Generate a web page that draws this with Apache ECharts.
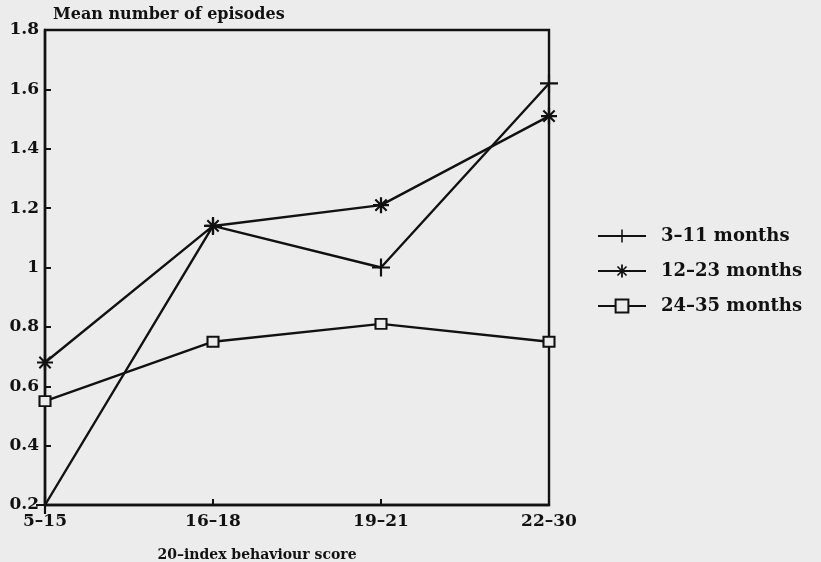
<!DOCTYPE html>
<html><head><meta charset="utf-8">
<script src="https://cdn.jsdelivr.net/npm/echarts@6/dist/echarts.min.js"></script>
<style>html,body{margin:0;padding:0;background:#ececec;}#c{width:821px;height:562px;}</style>
</head><body><div id="c"></div>
<script>
const categories = ['5–15', '16–18', '19–21', '22–30'];
const s1Name = '3–11 months';
const s2Name = '12–23 months';
const s3Name = '24–35 months';
const s1 = [0.2, 1.14, 1.0, 1.62];
const s2 = [0.68, 1.14, 1.21, 1.51];
const s3 = [0.55, 0.75, 0.81, 0.75];
const yTicks = {min: 0.2, max: 1.8, interval: 0.2};

const FONT = '"DejaVu Serif", serif';
const plusPath = 'path://M-1.2,-10 L1.2,-10 L1.2,10 L-1.2,10 Z M-10,-1.2 L10,-1.2 L10,1.2 L-10,1.2 Z';
const starPath = 'path://M-1.4,-10 L1.4,-10 L1.4,10 L-1.4,10 Z M-10,-1.4 L10,-1.4 L10,1.4 L-10,1.4 Z ' +
  'M-6.15,-7.99 L7.99,6.15 L6.15,7.99 L-7.99,-6.15 Z M7.99,-6.15 L-6.15,7.99 L-7.99,6.15 L6.15,-7.99 Z';

const chart = echarts.init(document.getElementById('c'));
const lineStyle = {color: '#111', width: 2.4};
chart.setOption({
  backgroundColor: '#ececec',
  animation: false,
  title: {
    text: 'Mean number of episodes', left: 48, top: 2,
    textStyle: {fontFamily: FONT, fontWeight: 'bold', fontSize: 16, color: '#111'}
  },
  grid: {left: 45, right: 272, top: 30, bottom: 57, show: true, borderColor: '#111', borderWidth: 2.4,
         backgroundColor: 'transparent', containLabel: false, outerBoundsMode: 'none'},
  legend: {
    orient: 'vertical', left: 592, top: 222, itemGap: 17, itemWidth: 48, itemHeight: 16,
    textStyle: {fontFamily: FONT, fontWeight: 'bold', fontSize: 18, color: '#111', padding: [0, 0, 0, 10]},
    data: [s1Name, s2Name, s3Name]
  },
  xAxis: {
    type: 'category', data: categories, boundaryGap: false,
    axisLine: {lineStyle: {color: '#111', width: 2.4}},
    axisTick: {inside: true, length: 6, lineStyle: {color: '#111', width: 2}},
    axisLabel: {fontFamily: FONT, fontWeight: 'bold', fontSize: 17, color: '#111', margin: 8},
    splitLine: {show: false},
    name: '20–index behaviour score', nameLocation: 'middle', nameGap: 43,
    nameTextStyle: {fontFamily: FONT, fontWeight: 'bold', fontSize: 14, color: '#111', padding: [0, 80, 0, 0]}
  },
  yAxis: {
    type: 'value', min: yTicks.min, max: yTicks.max, interval: yTicks.interval,
    axisLine: {show: true, lineStyle: {color: '#111', width: 2.4}},
    axisTick: {show: true, inside: true, length: 6, lineStyle: {color: '#111', width: 2}},
    axisLabel: {fontFamily: FONT, fontWeight: 'bold', fontSize: 17, color: '#111', margin: 6},
    splitLine: {show: false}
  },
  series: [
    {name: s1Name, type: 'line', data: s1, symbol: plusPath, symbolSize: 18, showAllSymbol: true,
     lineStyle: lineStyle, itemStyle: {color: '#111'}},
    {name: s2Name, type: 'line', data: s2, symbol: starPath, symbolSize: 16, showAllSymbol: true,
     lineStyle: lineStyle, itemStyle: {color: '#111'}},
    {name: s3Name, type: 'line', data: s3, symbol: 'rect', symbolSize: [11, 10], showAllSymbol: true,
     lineStyle: lineStyle, itemStyle: {color: '#ececec', borderColor: '#111', borderWidth: 2}}
  ]
});
</script></body></html>
